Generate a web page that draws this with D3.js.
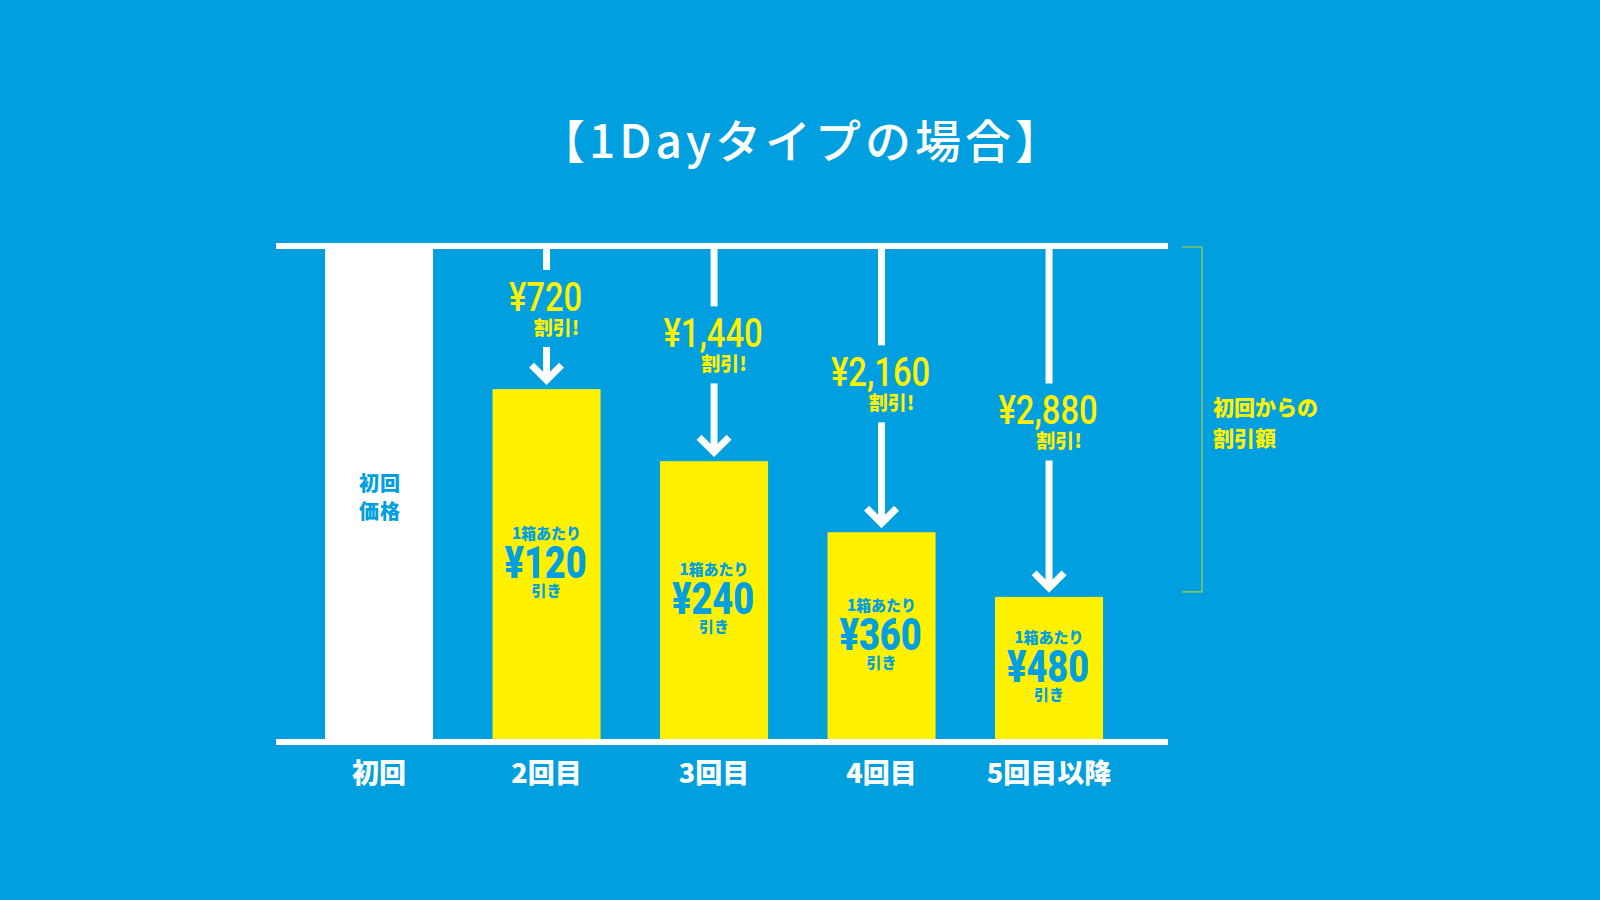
<!DOCTYPE html>
<html>
<head>
<meta charset="utf-8">
<script src="https://cdn.jsdelivr.net/npm/d3@7"></script>
<style>
  html, body { margin: 0; padding: 0; background: #009fe0; }
  svg { display: block; }
</style>
</head>
<body>
<div id="chart"></div>
<script>
// chart data
const title = "【1Dayタイプの場合】";
const categories = ["初回", "2回目", "3回目", "4回目", "5回目以降"];
// bar height as % of the first-time price (infographic, not to scale)
const barLevels = [100, 71.4, 56.7, 42.2, 29.0];
// total discount from the first-time price (yen)
const totalDiscounts = [0, 720, 1440, 2160, 2880];
// discount per box (yen)
const perBoxDiscounts = [0, 120, 240, 360, 480];
const firstBarLabel = ["初回", "価格"];
const bracketLabel = ["初回からの", "割引額"];

const width = 1600, height = 900;
const BLUE = "#009fe0", YELLOW = "#fff100", WHITE = "#ffffff";
const JP = "'Noto Sans CJK JP', 'Noto Sans', sans-serif";
const NUM = "Roboto, 'Noto Sans', sans-serif";
const yen = v => "¥" + d3.format(",")(v);

const data = categories.map((c, i) => ({
  cat: c, level: barLevels[i], total: totalDiscounts[i], perBox: perBoxDiscounts[i], i
}));

const svg = d3.select("#chart").append("svg")
  .attr("width", width)
  .attr("height", height)
  .attr("viewBox", [0, 0, width, height]);

svg.append("rect")
  .attr("width", width).attr("height", height)
  .attr("fill", BLUE);

const x = d3.scaleBand()
  .domain(categories)
  .range([295.3, 1132.8])
  .paddingInner(0.355)
  .paddingOuter(0.1775);

const y = d3.scaleLinear()
  .domain([0, 100])
  .range([739, 249]);

const cx = d => x(d.cat) + x.bandwidth() / 2;

// title
svg.append("text")
  .attr("x", 802)
  .attr("y", 158)
  .attr("text-anchor", "middle")
  .attr("font-family", JP)
  .attr("font-weight", 500)
  .attr("font-size", 46)
  .attr("letter-spacing", 4)
  .attr("fill", WHITE)
  .text(title);

// bars
svg.append("g").selectAll("rect")
  .data(data)
  .join("rect")
  .attr("x", d => x(d.cat))
  .attr("y", d => y(d.level))
  .attr("width", x.bandwidth())
  .attr("height", d => y(0) - y(d.level))
  .attr("fill", d => d.i === 0 ? WHITE : YELLOW);

// top and bottom rules
const lineX0 = 276, lineX1 = 1168;
svg.append("rect")
  .attr("x", lineX0).attr("y", y(100) - 6)
  .attr("width", lineX1 - lineX0).attr("height", 6)
  .attr("fill", WHITE);
svg.append("rect")
  .attr("x", lineX0).attr("y", y(0))
  .attr("width", lineX1 - lineX0).attr("height", 6)
  .attr("fill", WHITE);

// discount arrows + labels
const rest = data.filter(d => d.i > 0);
const labelBase = d => {
  const drop = y(d.level) - y(100);
  return y(100) + drop * (0.40 + 0.0003 * drop);
};

const arrows = svg.append("g").selectAll("g")
  .data(rest)
  .join("g");

arrows.append("line")
  .attr("x1", cx).attr("x2", cx)
  .attr("y1", y(100))
  .attr("y2", d => labelBase(d) - 41)
  .attr("stroke", WHITE).attr("stroke-width", 7);

arrows.append("line")
  .attr("x1", cx).attr("x2", cx)
  .attr("y1", d => labelBase(d) + 36)
  .attr("y2", d => y(d.level) - 9)
  .attr("stroke", WHITE).attr("stroke-width", 7);

arrows.append("path")
  .attr("d", d => {
    const vx = cx(d), vy = y(d.level) - 9;
    return `M${vx - 15},${vy - 15}L${vx},${vy}L${vx + 15},${vy - 15}`;
  })
  .attr("fill", "none")
  .attr("stroke", WHITE).attr("stroke-width", 7)
  .attr("stroke-linejoin", "miter");

arrows.append("text")
  .attr("transform", d => `translate(${cx(d) - 1},${labelBase(d)}) scale(0.82,1)`)
  .attr("text-anchor", "middle")
  .attr("font-family", NUM)
  .attr("font-weight", 500)
  .attr("font-size", 40)
  .attr("fill", YELLOW)
  .text(d => yen(d.total));

arrows.append("text")
  .attr("x", d => cx(d) + 10)
  .attr("y", d => labelBase(d) + 24)
  .attr("text-anchor", "middle")
  .attr("font-family", JP)
  .attr("font-weight", 900)
  .attr("font-size", 19)
  .attr("fill", YELLOW)
  .text("割引!");

// text inside yellow bars
const mid = d => (y(d.level) + y(0)) / 2;
const inner = svg.append("g").selectAll("g")
  .data(rest)
  .join("g");

inner.append("text")
  .attr("x", cx).attr("y", d => mid(d) - 25)
  .attr("text-anchor", "middle")
  .attr("font-family", JP).attr("font-weight", 900).attr("font-size", 15)
  .attr("fill", BLUE)
  .text("1箱あたり");

inner.append("text")
  .attr("transform", d => `translate(${cx(d) - 1},${mid(d) + 14}) scale(0.82,1)`)
  .attr("text-anchor", "middle")
  .attr("font-family", NUM).attr("font-weight", 900).attr("font-size", 44)
  .attr("fill", BLUE)
  .text(d => yen(d.perBox));

inner.append("text")
  .attr("x", cx).attr("y", d => mid(d) + 32)
  .attr("text-anchor", "middle")
  .attr("font-family", JP).attr("font-weight", 900).attr("font-size", 15)
  .attr("fill", BLUE)
  .text("引き");

// label inside the white first bar
const first = data[0];
svg.append("g").selectAll("text")
  .data(firstBarLabel)
  .join("text")
  .attr("x", cx(first) + 1)
  .attr("y", (t, j) => mid(first) - 3 + j * 28)
  .attr("text-anchor", "middle")
  .attr("font-family", JP).attr("font-weight", 900).attr("font-size", 20)
  .attr("letter-spacing", 1)
  .attr("fill", BLUE)
  .text(t => t);

// category labels
svg.append("g").selectAll("text")
  .data(data)
  .join("text")
  .attr("x", cx)
  .attr("y", 783)
  .attr("text-anchor", "middle")
  .attr("font-family", JP).attr("font-weight", 900).attr("font-size", 27)
  .attr("fill", WHITE)
  .text(d => d.cat);

// bracket on the right
const last = data[data.length - 1];
const bTop = y(100) - 2, bBot = y(last.level) - 5, bx = 1202;
svg.append("path")
  .attr("d", `M${bx - 20},${bTop}H${bx}V${bBot}H${bx - 20}`)
  .attr("fill", "none")
  .attr("stroke", "#84c45c")
  .attr("stroke-width", 1.6);

svg.append("g").selectAll("text")
  .data(bracketLabel)
  .join("text")
  .attr("x", 1213)
  .attr("y", (t, j) => (bTop + bBot) / 2 - 4 + j * 31)
  .attr("font-family", JP).attr("font-weight", 900).attr("font-size", 21)
  .attr("fill", YELLOW)
  .text(t => t);
</script>
</body>
</html>
